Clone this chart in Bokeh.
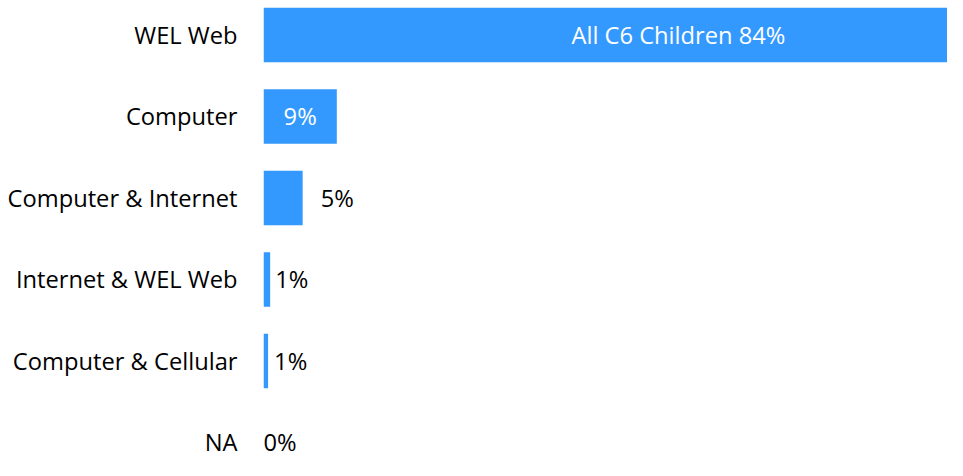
from bokeh.plotting import figure
from bokeh.models import ColumnDataSource, Range1d, FixedTicker
from bokeh.embed import file_html
from bokeh.resources import INLINE
from bokeh.core.properties import value

# ---- data ----
categories = ["WEL Web", "Computer", "Computer & Internet",
              "Internet & WEL Web", "Computer & Cellular", "NA"]
shares = [84.0, 8.8, 4.7, 0.8, 0.55, 0.0]
label_texts = ["All C6 Children 84%", "9%", "5%", "1%", "1%", "0%"]

# ---- style ----
FONT = "Open Sans"
FONT_SIZE = "23.7px"
BAR_COLOR = "#3399ff"
label_nudge_px = [65, 0, 18, 5, 6, 0]

rows = list(range(len(categories)))
inside = [s >= 8 for s in shares]
label_x = [s / 2 if ins else s for s, ins in zip(shares, inside)]
label_align = ["center" if ins else "left" for ins in inside]
label_color = ["#ffffff" if ins else "#000000" for ins in inside]

src = ColumnDataSource(dict(
    row=rows, val=shares, lx=label_x, label=label_texts,
    align=label_align, tcolor=label_color, nudge=label_nudge_px,
))

p = figure(width=947, height=460,
           x_range=Range1d(0, 82.1), y_range=Range1d(5.221, -0.423),
           output_backend="svg", toolbar_location=None, x_axis_location=None,
           min_border_left=263, min_border_right=0,
           min_border_top=0, min_border_bottom=0)

p.outline_line_color = None
p.grid.visible = False
p.background_fill_color = "white"
p.border_fill_color = "white"

ax = p.yaxis[0]
ax.ticker = FixedTicker(ticks=rows)
ax.major_label_overrides = {r: c for r, c in zip(rows, categories)}
ax.axis_line_color = None
ax.major_tick_line_color = None
ax.minor_tick_line_color = None
ax.major_tick_out = 0
ax.major_tick_in = 0
ax.major_label_standoff = 26
ax.major_label_text_font = FONT
ax.major_label_text_font_size = FONT_SIZE
ax.major_label_text_color = "#000000"

p.hbar(y="row", left=0, right="val", height=0.67, source=src,
       fill_color=BAR_COLOR, line_color=None)

p.text(x="lx", y="row", text="label", source=src,
       text_align="align", text_baseline="middle", text_color="tcolor",
       x_offset="nudge", text_font=value(FONT), text_font_size=FONT_SIZE)

open("out.html", "w").write(file_html(p, INLINE))
